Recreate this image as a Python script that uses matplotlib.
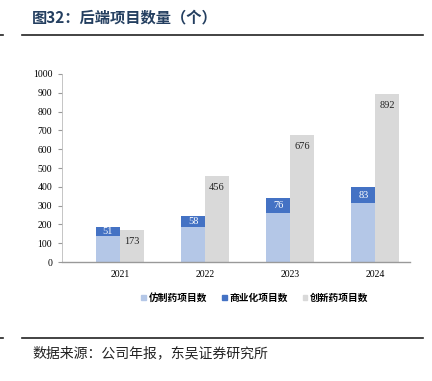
import matplotlib as mpl
import matplotlib.pyplot as plt
import numpy as np
from matplotlib.patches import Patch
from matplotlib.lines import Line2D

mpl.rcParams["font.family"] = ["Liberation Serif", "Noto Sans CJK SC"]
mpl.rcParams["axes.unicode_minus"] = False

years = ["2021", "2022", "2023", "2024"]
generic = [137, 188, 263, 315]      # 仿制药项目数
commercial = [51, 58, 76, 83]       # 商业化项目数
innovative = [173, 456, 676, 892]   # 创新药项目数
series_names = ["仿制药项目数", "商业化项目数", "创新药项目数"]

c_light, c_blue, c_grey = "#B4C7E7", "#4472C4", "#D9D9D9"

fig = plt.figure(figsize=(4.32, 3.81), dpi=100)
ax = fig.add_axes([0.1435, 0.312, 0.806, 0.494])

x = np.arange(len(years))
w = 0.28
ax.bar(x - w / 2, generic, w, color=c_light, zorder=2)
ax.bar(x - w / 2, commercial, w, bottom=generic, color=c_blue, zorder=2)
ax.bar(x + w / 2, innovative, w, color=c_grey, zorder=2)

for i in range(len(years)):
    ax.text(x[i] - w / 2, generic[i] + commercial[i] / 2, str(commercial[i]),
            ha="center", va="center", color="white", fontsize=7.5)
    ax.text(x[i] + w / 2, innovative[i] - 62, str(innovative[i]),
            ha="center", va="center", color="#222222", fontsize=7.5)

ax.set_xlim(-0.68, 3.41)
ax.set_ylim(0, 1000)
ax.set_yticks(np.arange(0, 1001, 100))
ax.set_xticks(x)
ax.set_xticklabels(years)
ax.tick_params(axis="y", labelsize=7, length=3, color="#999999", pad=4)
ax.tick_params(axis="x", labelsize=7, length=0, pad=6)
for s in ["top", "right"]:
    ax.spines[s].set_visible(False)
ax.spines["left"].set_color("#BBBBBB")
ax.spines["bottom"].set_color("#999999")
ax.spines["left"].set_linewidth(0.6)
ax.spines["bottom"].set_linewidth(1.0)

handles = [Patch(color=c_light), Patch(color=c_blue), Patch(color=c_grey)]
fig.legend(handles, series_names, loc="center", bbox_to_anchor=(0.59, 0.218),
           ncol=3, frameon=False, handlelength=0.5, handleheight=0.5,
           handletextpad=0.3, columnspacing=1.5,
           prop={"family": "Noto Sans CJK SC", "size": 7, "weight": "bold"})

fig.text(0.074, 0.953, "图32：后端项目数量（个）", fontsize=11, fontweight="bold",
         color="#243F60", va="center", family=["Noto Sans CJK SC"])
fig.add_artist(Line2D([0.05, 0.98], [0.908, 0.908], color="#222222", lw=1.2))
fig.add_artist(Line2D([0.0, 0.008], [0.908, 0.908], color="#222222", lw=1.2))
fig.add_artist(Line2D([0.05, 0.98], [0.113, 0.113], color="#222222", lw=1.2))
fig.add_artist(Line2D([0.0, 0.008], [0.113, 0.113], color="#222222", lw=1.2))
fig.text(0.074, 0.073, "数据来源：公司年报，东吴证券研究所", fontsize=10,
         color="#222222", va="center", family=["Noto Sans CJK SC"])

fig.savefig("out.png", dpi=100)
